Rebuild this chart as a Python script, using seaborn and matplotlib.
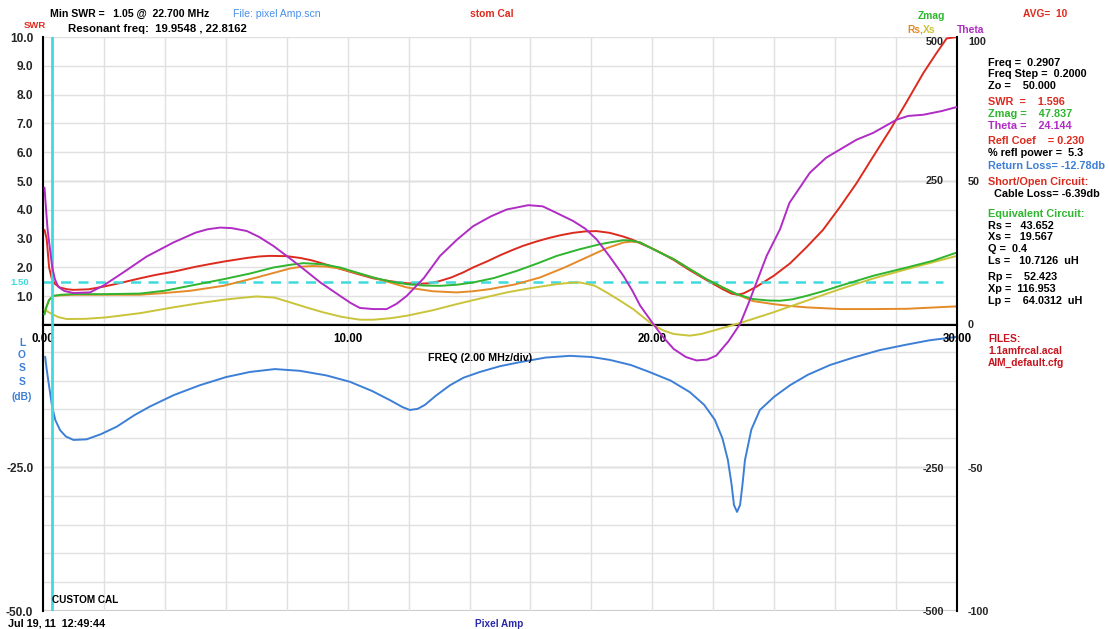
import numpy as np
import pandas as pd
import matplotlib
matplotlib.use('Agg')
import matplotlib.pyplot as plt
import seaborn as sns
from matplotlib.ticker import FixedLocator, FixedFormatter, MultipleLocator

# ---------------- data ----------------
swr_freq = [0.05, 0.12, 0.2, 0.29, 0.4, 0.56, 0.8, 1.0, 1.5, 1.98, 2.5, 3.18, 3.7, 4.28,
            5.0, 5.5, 5.92, 6.7, 7.1, 7.45, 8.0, 8.43, 8.8, 9.1, 9.75, 10.4, 10.84, 11.4,
            11.94, 12.3, 12.7, 13.0, 13.4, 13.8, 14.12, 14.6, 15.0, 15.4, 15.76, 16.2,
            16.6, 17.0, 17.4, 17.8, 18.17, 18.6, 19.05, 19.35, 19.6, 19.9, 20.2, 20.7,
            21.2, 21.78, 22.3, 22.6, 22.8, 23.0, 23.42, 24.0, 24.52, 25.06, 25.6, 26.16,
            26.7, 27.25, 27.8, 28.35, 28.89, 29.3, 29.66, 30.0]
swr = [3.3, 3.0, 2.0, 1.6, 1.42, 1.3, 1.24, 1.22, 1.24, 1.33, 1.45, 1.62, 1.74, 1.85,
       2.02, 2.12, 2.2, 2.33, 2.38, 2.4, 2.39, 2.33, 2.25, 2.16, 1.95, 1.75, 1.62, 1.52,
       1.45, 1.43, 1.45, 1.52, 1.65, 1.83, 2.0, 2.22, 2.42, 2.6, 2.75, 2.9,
       3.02, 3.12, 3.2, 3.25, 3.26, 3.2, 3.07, 2.96, 2.84, 2.7, 2.55, 2.26,
       1.92, 1.56, 1.25, 1.09, 1.05, 1.1, 1.33, 1.72, 2.14, 2.7, 3.3, 4.1,
       4.92, 5.85, 6.77, 7.75, 8.74, 9.4, 9.95, 10.0]

theta_freq = [0.05, 0.1, 0.15, 0.23, 0.3, 0.39, 0.5, 0.7, 1.0, 1.54, 2.0, 2.64, 3.4, 4.28,
              5.0, 5.4, 5.81, 6.2, 6.69, 7.1, 7.56, 8.0, 8.43, 9.1, 9.75, 10.1, 10.4, 10.84,
              11.28, 11.6, 11.94, 12.5, 13.03, 13.6, 14.12, 14.7, 15.22, 15.93, 16.4, 16.7,
              17.4, 17.8, 18.17, 18.6, 19.05, 19.35, 19.6, 20.03, 20.35, 20.7, 21.1, 21.45,
              21.8, 22.1, 22.5, 22.88, 23.15, 23.42, 23.75, 24.19, 24.5, 25.17, 25.7, 26.16,
              26.7, 27.25, 28.02, 28.4, 28.89, 29.5, 29.99]
theta = [47.5, 40, 33, 26, 20, 15.6, 13, 11.5, 10.8, 11, 13.5, 18, 23.5, 28.4,
         31.8, 33, 33.6, 33.4, 32.4, 30.3, 27.2, 23.7, 20.2, 14.5, 9.8, 7.3, 5.6, 5.2,
         5.2, 7, 9.8, 16, 23.7, 29.5, 34.1, 37.5, 39.9, 41.4, 41, 39.5,
         35.9, 33.2, 29.5, 23.5, 16.8, 11.5, 6.4, 0, -4.5, -8.7, -11.5, -12.7,
         -12.4, -11, -6, 0, 7, 14.5, 23.7, 33, 42.2, 52.7, 57.9, 60.8,
         64.2, 66.6, 71.2, 72.5, 72.9, 74.2, 75.6]

zmag_freq = [0.05, 0.1, 0.2, 0.34, 0.6, 1.0, 2.0, 3.18, 4.0, 4.82, 5.92, 6.8, 7.56, 8.1,
             8.54, 9.2, 9.75, 10.4, 10.84, 11.4, 11.94, 12.5, 13.03, 13.6, 14.12, 14.8,
             15.55, 16.2, 16.86, 17.6, 18.28, 18.7, 19.05, 19.3, 19.6, 20.25, 20.7, 21.25,
             21.78, 22.3, 22.77, 23.31, 23.8, 24.19, 24.6, 25.06, 25.6, 26.16, 27.25, 28.35,
             29.2, 29.99]
zmag = [17, 28, 42, 49, 51, 52, 52, 53, 58, 66.5, 78, 88, 98.4, 103,
        106, 104, 98.4, 88, 81, 74, 69.4, 67, 66.5, 68.5, 72.4, 80,
        92.5, 105, 118.6, 130, 139, 143, 146, 145.5, 142, 124.5, 113, 95,
        78, 64, 52, 43.4, 41, 40.5, 43, 49, 57, 66.5, 84, 98.4,
        110, 124.5]

rs_freq = [0.05, 0.1, 0.2, 0.34, 0.6, 1.0, 3.18, 4.0, 4.82, 5.92, 7.01, 8.11, 8.5, 8.87,
           9.3, 9.75, 10.84, 11.94, 12.8, 13.58, 14.1, 14.67, 15.5, 16.31, 17.1, 17.95,
           18.5, 19.05, 19.3, 19.6, 20.25, 20.7, 21.25, 21.78, 22.3, 22.77, 23.3, 23.97,
           24.5, 25.06, 26.2, 27.25, 28.35, 29.99]
rs = [17, 28, 42, 49, 50, 51, 51, 54, 57.8, 66.5, 81, 96.7, 100, 101,
      100, 96.7, 81, 63.7, 57, 55, 57, 60.8, 69, 81, 98, 118.6,
      132, 142, 143.5, 142, 124.5, 113, 95, 78, 64, 52, 40, 34.7,
      31.5, 29, 26, 26, 26.5, 30.7]

xs_freq = [0.05, 0.2, 0.5, 0.78, 1.4, 2.09, 3.2, 4.28, 5.1, 5.92, 6.5, 7.01, 7.6, 8.11,
           8.7, 9.2, 9.8, 10.4, 10.84, 11.4, 11.94, 12.8, 13.58, 14.4, 15.22, 16.0, 16.86,
           17.3, 17.62, 18.1, 18.5, 18.9, 19.37, 19.98, 20.35, 20.7, 21.23, 21.6, 22.0,
           22.88, 23.97, 25.06, 26.16, 27.25, 28.35, 29.99]
xs = [25, 20, 12, 8.7, 9, 11.6, 19, 29, 36, 42.2, 45.5, 48, 46, 37.7,
      28, 20.3, 12.5, 7.5, 7.5, 10, 14.4, 24, 34.7, 45, 55, 62.5, 69.4,
      71.8, 72.4, 67, 55, 42, 26, 0, -11, -17.4, -20.3, -17.5, -11.6,
      1.7, 20.3, 40.5, 60.8, 79.3, 95.5, 118.6]

loss_freq = [0.07, 0.12, 0.17, 0.23, 0.29, 0.4, 0.56, 0.75, 1.0, 1.43, 1.9, 2.42, 3.0, 3.51,
             4.3, 5.15, 6.0, 6.79, 7.61, 8.43, 9.3, 10.07, 10.8, 11.39, 11.8, 12.04, 12.3,
             12.54, 12.9, 13.36, 13.8, 14.34, 15.0, 15.65, 16.5, 17.3, 18.0, 18.6, 19.3,
             19.9, 20.6, 21.23, 21.7, 22.05, 22.3, 22.48, 22.6, 22.68, 22.78, 22.88, 22.96,
             23.04, 23.25, 23.53, 24.0, 24.52, 25.1, 25.83, 26.6, 27.47, 28.3, 29.1, 30.0]
loss = [-5.85, -8.0, -9.9, -12.0, -14.2, -16.8, -18.6, -19.7, -20.3, -20.2, -19.3, -18.0,
        -16.0, -14.5, -12.5, -10.8, -9.4, -8.5, -8.0, -8.3, -9.1, -10.2, -11.8, -13.4,
        -14.6, -15.1, -14.9, -14.2, -12.6, -10.8, -9.5, -8.5, -7.5, -6.8, -6.0, -5.7,
        -5.9, -6.4, -7.3, -8.5, -10.0, -12.0, -14.2, -16.8, -20.0, -23.8, -28.0, -31.6,
        -32.8, -31.6, -28.0, -23.8, -18.5, -15.1, -12.8, -10.8, -9.0, -7.3, -6.0, -4.7,
        -3.8, -3.0, -2.4]

marker_freq = 0.2907
swr_ref = 1.5

x_ticks = [0, 2, 4, 6, 8, 10, 12, 14, 16, 18, 20, 22, 24, 26, 28, 30]
x_labels = ['0.00', '', '', '', '', '10.00', '', '', '', '', '20.00', '', '', '', '', '30.00']
swr_ticks = [1, 2, 3, 4, 5, 6, 7, 8, 9, 10]
swr_labels = ['1.0', '2.0', '3.0', '4.0', '5.0', '6.0', '7.0', '8.0', '9.0', '10.0']
loss_ticks = [-50, -45, -40, -35, -30, -25, -20, -15, -10, -5, 0]
loss_labels = ['-50.0', '', '', '', '', '-25.0', '', '', '', '', '']
ohm_ticks = [-500, -250, 0, 250, 500]
ohm_labels = ['-500', '-250', '', '250', '500']
theta_ticks = [-100, -50, 0, 50, 100]
theta_labels = ['-100', '-50', '0', '50', '100']

# ---------------- style ----------------
sns.set_style('white')
plt.rcParams['font.family'] = ['Liberation Sans', 'DejaVu Sans']
plt.rcParams['font.weight'] = 'bold'
plt.rcParams['font.size'] = 7.8

C_RED = '#dd2a1e'
C_MAG = '#b02cc4'
C_GRN = '#2fb52f'
C_ORG = '#e58a28'
C_YEL = '#c9c43a'
C_BLU = '#3d7fd6'
C_CYAN = '#3fdade'
C_GRID = '#e0e0e0'
LW = 1.4
FS_LEFT = 8.6
FS_X = 8.3
FS_RIGHT = 7.8

W, H = 1109, 629
fig = plt.figure(figsize=(W / 100, H / 100), dpi=100)


def rect(x0, y0, x1, y1):
    return [x0 / W, 1 - y1 / H, (x1 - x0) / W, (y1 - y0) / H]


X0, X1 = 43, 957
ax_bot = fig.add_axes(rect(X0, 323, X1, 611))
ax_top = fig.add_axes(rect(X0, 37, X1, 325))
ax_ohm = fig.add_axes(rect(X0, 37, X1, 611))
ax_th = fig.add_axes(rect(X0, 37, X1, 611))

for a in (ax_top, ax_ohm, ax_th):
    a.patch.set_alpha(0)

# ---- bottom panel (loss)
ax_bot.set_xlim(0, 30)
ax_bot.set_ylim(-50, 0)
ax_bot.set_axisbelow(True)
ax_bot.xaxis.set_major_locator(FixedLocator(x_ticks))
ax_bot.xaxis.set_major_formatter(FixedFormatter([''] * len(x_ticks)))
ax_bot.yaxis.set_major_locator(FixedLocator(loss_ticks))
ax_bot.yaxis.set_major_formatter(FixedFormatter(loss_labels))
ax_bot.grid(True, color=C_GRID, lw=1.0)
for s in ('top', 'right', 'bottom'):
    ax_bot.spines[s].set_visible(False)
ax_bot.spines['left'].set_color('black')
ax_bot.spines['left'].set_linewidth(1.5)
ax_bot.tick_params(axis='x', length=0)
ax_bot.tick_params(axis='y', direction='out', length=6, width=1.2, pad=1, labelsize=FS_LEFT)
ax_bot.axhline(-25, color='#c4c4c4', lw=1.0, zorder=0.5)
ax_bot.axhline(-50, color='#c8c8c8', lw=1.5, zorder=0.5)
sns.lineplot(x=loss_freq, y=loss, ax=ax_bot, color=C_BLU, lw=LW, estimator=None, sort=False)
ax_bot.set_xlabel('')
ax_bot.set_ylabel('')

# ---- top panel (SWR)
ax_top.set_xlim(0, 30)
ax_top.set_ylim(0, 10)
ax_top.set_axisbelow(True)
ax_top.xaxis.set_major_locator(FixedLocator(x_ticks))
ax_top.xaxis.set_major_formatter(FixedFormatter(x_labels))
ax_top.yaxis.set_major_locator(FixedLocator(swr_ticks))
ax_top.yaxis.set_major_formatter(FixedFormatter(swr_labels))
ax_top.grid(True, color=C_GRID, lw=1.0)
for s in ('top', 'right'):
    ax_top.spines[s].set_visible(False)
for s in ('left', 'bottom'):
    ax_top.spines[s].set_color('black')
    ax_top.spines[s].set_linewidth(1.5)
ax_top.tick_params(axis='x', direction='inout', length=8, width=1.2, pad=2,
                   labelsize=FS_X, colors='black')
ax_top.tick_params(axis='y', direction='out', length=6, width=1.2, pad=1, labelsize=FS_LEFT)
ax_top.axhline(5, color='#c4c4c4', lw=1.0, zorder=0.5)

sns.lineplot(x=swr_freq, y=swr, ax=ax_top, color=C_RED, lw=LW, estimator=None, sort=False)
ax_top.axhline(swr_ref, xmin=0, xmax=0.985, color=C_CYAN, lw=1.8, ls=(0, (4, 3)))
ax_top.set_xlabel('')
ax_top.set_ylabel('')

# ---- full height ohm axis (Zmag, Rs, Xs)
ax_ohm.set_xlim(0, 30)
ax_ohm.set_ylim(-500, 500)
ax_ohm.set_xticks([])
for s in ('top', 'right', 'bottom'):
    ax_ohm.spines[s].set_visible(False)
ax_ohm.spines['left'].set_position(('axes', 1.0))
ax_ohm.spines['left'].set_color('black')
ax_ohm.spines['left'].set_linewidth(1.5)
ax_ohm.yaxis.set_major_locator(FixedLocator(ohm_ticks))
ax_ohm.yaxis.set_major_formatter(FixedFormatter(ohm_labels))
ax_ohm.yaxis.set_minor_locator(MultipleLocator(50))
ax_ohm.tick_params(axis='y', which='major', direction='inout', length=17, width=1.0,
                   pad=1, labelsize=FS_RIGHT)
ax_ohm.tick_params(axis='y', which='minor', direction='inout', length=6, width=1.0)
sns.lineplot(x=rs_freq, y=rs, ax=ax_ohm, color=C_ORG, lw=LW, estimator=None, sort=False)
sns.lineplot(x=xs_freq, y=xs, ax=ax_ohm, color=C_YEL, lw=LW, estimator=None, sort=False)
sns.lineplot(x=zmag_freq, y=zmag, ax=ax_ohm, color=C_GRN, lw=LW, estimator=None, sort=False)
ax_ohm.axvline(marker_freq, color=C_CYAN, lw=2.0)
ax_ohm.set_xlabel('')
ax_ohm.set_ylabel('')
ax_ohm.get_yticklabels()[-1].set_va('top')

# ---- theta axis
ax_th.set_xlim(0, 30)
ax_th.set_ylim(-100, 100)
ax_th.set_xticks([])
for s in ax_th.spines.values():
    s.set_visible(False)
ax_th.yaxis.tick_right()
ax_th.yaxis.set_major_locator(FixedLocator(theta_ticks))
ax_th.yaxis.set_major_formatter(FixedFormatter(theta_labels))
ax_th.tick_params(axis='y', length=0, pad=8, labelsize=FS_RIGHT)
sns.lineplot(x=theta_freq, y=theta, ax=ax_th, color=C_MAG, lw=LW, estimator=None, sort=False)
ax_th.set_xlabel('')
ax_th.set_ylabel('')
ax_th.get_yticklabels()[-1].set_va('top')


# ---------------- texts ----------------
def t(x, y, s, color='black', ha='left', size=7.8, weight='bold'):
    fig.text(x / W, 1 - y / H, s, color=color, ha=ha, va='center', fontsize=size,
             fontweight=weight)


t(24, 25, 'SWR', C_RED, size=6.8)
t(50, 14, 'Min SWR =   1.05 @  22.700 MHz', size=7.6)
t(68, 29, 'Resonant freq:  19.9548 , 22.8162', size=8.2)
t(233, 14, 'File: pixel Amp.scn', '#4a90e8', size=7.6, weight='normal')
t(470, 14, 'stom Cal', C_RED, size=7.4)
t(918, 16, 'Zmag', C_GRN, size=7.4)
t(1023, 14, 'AVG=  10', C_RED, size=7.4)
t(907, 30, 'Rs,', C_ORG, size=7.4)
t(923, 30, 'Xs', C_YEL, size=7.4)
t(957, 30, 'Theta', C_MAG, size=7.4)

panel = [
    (63, 'Freq =  0.2907', 'black'),
    (74, 'Freq Step =  0.2000', 'black'),
    (86, 'Zo =    50.000', 'black'),
    (102, 'SWR  =    1.596', C_RED),
    (114, 'Zmag =    47.837', C_GRN),
    (126, 'Theta =    24.144', C_MAG),
    (141, 'Refl Coef    = 0.230', C_RED),
    (153, '% refl power =  5.3', 'black'),
    (166, 'Return Loss= -12.78db', C_BLU),
    (182, 'Short/Open Circuit:', C_RED),
    (194, '  Cable Loss= -6.39db', 'black'),
    (214, 'Equivalent Circuit:', C_GRN),
    (226, 'Rs =   43.652', 'black'),
    (237, 'Xs =   19.567', 'black'),
    (249, 'Q =  0.4', 'black'),
    (261, 'Ls =   10.7126  uH', 'black'),
    (277, 'Rp =    52.423', 'black'),
    (289, 'Xp =  116.953', 'black'),
    (301, 'Lp =    64.0312  uH', 'black'),
    (339, 'FILES:', '#c8141e'),
    (351, '1.1amfrcal.acal', '#c8141e'),
    (363, 'AIM_default.cfg', '#c8141e'),
]
for y, s, c in panel:
    t(988, y, s, c, size=7.4 if y > 330 else 7.8)

t(10, 282, '1.50', C_CYAN, size=6.8)
for y, s in [(343, 'L'), (355, 'O'), (368, 'S'), (382, 'S')]:
    t(22, y, s, C_BLU, ha='center', size=7.4)
t(22, 397, '(dB)', C_BLU, ha='center', size=7.4)
t(428, 358, 'FREQ (2.00 MHz/div)', size=7.7)
t(52, 600, 'CUSTOM CAL', size=7.2)
t(8, 623, 'Jul 19, 11  12:49:44', size=7.8)
t(475, 624, 'Pixel Amp', '#2a2aa8', size=7.2)

fig.savefig('out.png', dpi=100)
